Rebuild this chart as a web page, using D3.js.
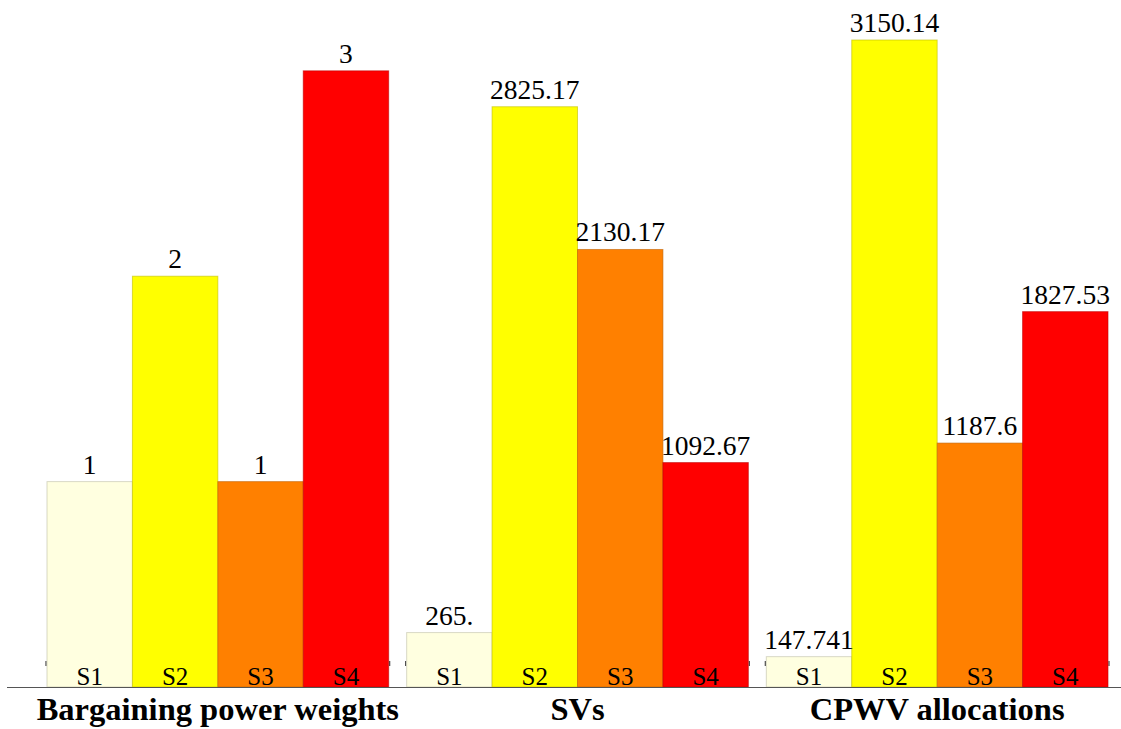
<!DOCTYPE html>
<meta charset="utf-8">
<svg width="1121" height="729" style="position:absolute;left:0;top:0"></svg>
<script src="https://d3js.org/d3.v7.min.js"></script>
<script>

var groups = ["Bargaining power weights", "SVs", "CPWV allocations"];
var series = ["S1", "S2", "S3", "S4"];
var colors = ["#ffffe0", "#ffff00", "#ff8000", "#ff0000"];

// weights are drawn at 1000x so they share the money axis
var weights = [1, 2, 1, 3];
var weightFactor = 1000;
var svs = [265, 2825.17, 2130.17, 1092.67];
var cpwv = [147.741, 3150.14, 1187.6, 1827.53];

var labels = [
  ["1", "2", "1", "3"],
  ["265.", "2825.17", "2130.17", "1092.67"],
  ["147.741", "3150.14", "1187.6", "1827.53"]
];

var data = [];
groups.forEach(function(g, gi) {
  series.forEach(function(s, si) {
    var v = gi == 0 ? weights[si] * weightFactor : (gi == 1 ? svs[si] : cpwv[si]);
    data.push({group: g, series: s, value: v, label: labels[gi][si], color: colors[si]});
  });
});

var baseY = 687;
var serif = "'Liberation Serif'";

var svg = d3.select("svg");

var x0 = d3.scaleBand().domain(groups).range([47, 1108]).paddingInner(0.05).paddingOuter(0);
var x1 = d3.scaleBand().domain(series).range([0, x0.bandwidth()]).padding(0);
var y = d3.scaleLinear().domain([0, 3150.14]).range([baseY, 40]);

// small frame ticks at the group edges
groups.forEach(function(g) {
  [x0(g) - 1, x0(g) + x0.bandwidth() + 1].forEach(function(px) {
    svg.append("line")
      .attr("x1", px).attr("x2", px)
      .attr("y1", 661).attr("y2", 666)
      .attr("stroke", "#444")
      .attr("stroke-width", 1.2);
  });
});

svg.selectAll("rect.bar")
  .data(data)
  .enter().append("rect")
  .attr("class", "bar")
  .attr("x", function(d) { return x0(d.group) + x1(d.series); })
  .attr("y", function(d) { return y(d.value); })
  .attr("width", x1.bandwidth())
  .attr("height", function(d) { return baseY - y(d.value); })
  .attr("fill", function(d) { return d.color; })
  .attr("stroke", function(d) { return d3.color(d.color).darker(0.8); })
  .attr("stroke-opacity", 0.6)
  .attr("stroke-width", 1);

svg.selectAll("text.val")
  .data(data)
  .enter().append("text")
  .attr("class", "val")
  .style("font-family", serif)
  .style("font-size", "27.5px")
  .attr("text-anchor", "middle")
  .attr("x", function(d) { return x0(d.group) + x1(d.series) + x1.bandwidth() / 2; })
  .attr("y", function(d) { return y(d.value) - 8; })
  .text(function(d) { return d.label; });

svg.selectAll("text.slab")
  .data(data)
  .enter().append("text")
  .attr("class", "slab")
  .style("font-family", serif)
  .style("font-size", "25px")
  .attr("text-anchor", "middle")
  .attr("x", function(d) { return x0(d.group) + x1(d.series) + x1.bandwidth() / 2; })
  .attr("y", baseY - 2)
  .text(function(d) { return d.series; });

svg.append("line")
  .attr("x1", 7).attr("x2", 1121)
  .attr("y1", baseY + 0.5).attr("y2", baseY + 0.5)
  .attr("stroke", "#555")
  .attr("stroke-width", 1.2);

svg.selectAll("text.grp")
  .data(groups)
  .enter().append("text")
  .attr("class", "grp")
  .style("font-family", serif)
  .style("font-size", "32.5px")
  .style("font-weight", "bold")
  .attr("text-anchor", "middle")
  .attr("x", function(d) { return x0(d) + x0.bandwidth() / 2; })
  .attr("y", 720)
  .text(function(d) { return d; });

</script>
